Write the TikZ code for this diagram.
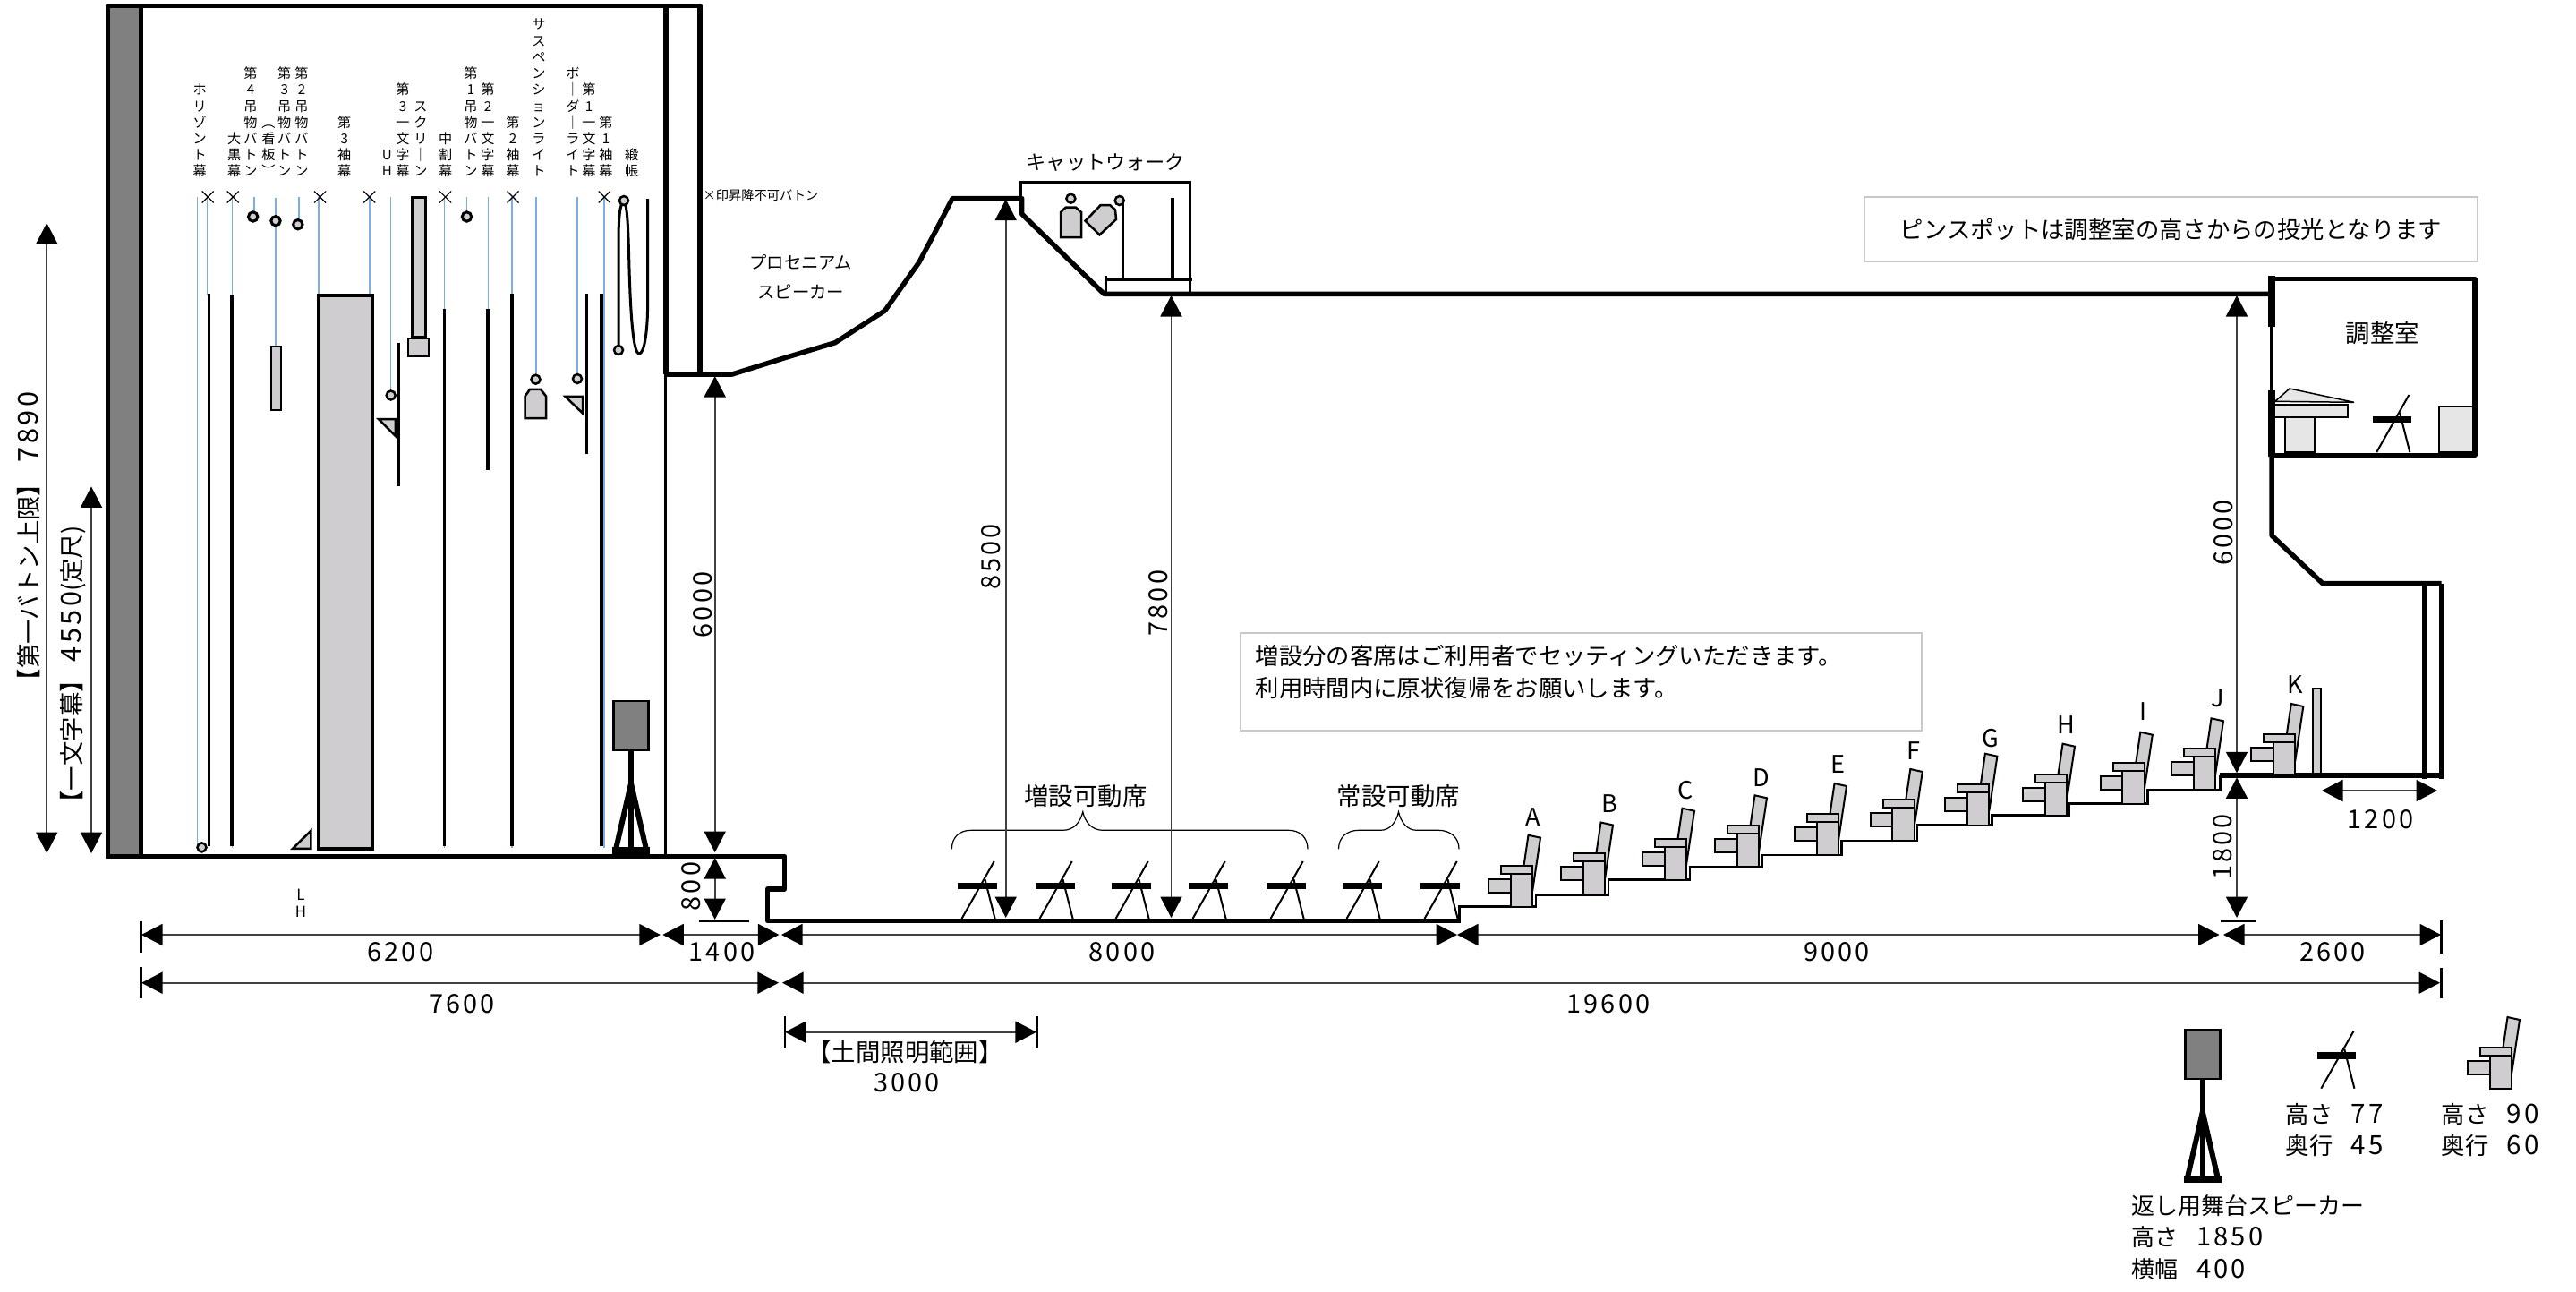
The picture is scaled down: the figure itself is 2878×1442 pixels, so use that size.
\documentclass[tikz,border=0pt]{standalone}
\usepackage{fontspec}
\setmainfont{Noto Sans CJK JP}
\newfontfamily\dimfont[LetterSpace=11,Scale=1.12]{Noto Sans CJK JP}
\usetikzlibrary{arrows.meta}

\definecolor{seatgray}{HTML}{CFCDCF}
\definecolor{paleg}{HTML}{E6E6E6}
\definecolor{darkg}{HTML}{808080}
\definecolor{battenblue}{HTML}{78AEE6}
\definecolor{boxgray}{HTML}{C8C8C8}

\tikzset{
    foldchair/.pic={
        \fill (0,-40.5) rectangle (43.5,-33);
        \draw[line width=0.02cm] (4.5,0) -- (40.7,-64);
        \draw[line width=0.02cm] (30.4,-44) -- (41.6,0);
    },
    fixedseat/.pic={
        \draw[seatline] (-4.5,-80) -- (9,-77) -- (0.5,-20) -- (-9.5,-46) -- cycle;
        \draw[seatline] (-49,-31) rectangle (-24.5,-16);
        \draw[seatline] (-24.5,-37) rectangle (0,0);
        \draw[seatline] (-35,-46) rectangle (0,-37);
    },
    speaker/.pic={
        \draw[line width=0.06cm] (0,55) -- (0,170);
        \draw[line width=0.06cm] (-18,170) -- (0,92) -- (18,170);
        \draw[line width=0.08cm] (-21,167) -- (21,167);
        \draw[line width=0.025cm, fill=darkg] (-19.5,0) rectangle (19.5,55);
    }
}

\begin{document}
\begin{tikzpicture}[x=0.01cm,y=-0.01cm]
    \tikzstyle{every node}=[font=\fontsize{7.5pt}{10.5pt}\selectfont, inner sep=0pt]
    \tikzstyle{biglabel}=[font=\fontsize{7.8pt}{10.5pt}\selectfont]
    \tikzstyle{seatline}=[line width=0.02cm, fill=seatgray]
    \tikzstyle{wall}=[line width=0.055cm, line join=round]
    \tikzstyle{stepline}=[line width=0.025cm]
    \tikzstyle{batten}=[line width=0.035cm]
    \tikzstyle{wire}=[line width=0.018cm, draw=battenblue]
    \tikzstyle{hang}=[line width=0.025cm, fill=seatgray]
    \tikzstyle{dimline}=[line width=0.018cm, draw=black!75, <->, >={Triangle[length=0.235cm,width=0.24cm,color=black]}]
    \tikzstyle{dimtick}=[line width=0.025cm]
    \tikzstyle{dimlabel}=[font=\dimfont\fontsize{7.34pt}{10.5pt}\selectfont]
    \tikzstyle{vtext}=[font=\fontsize{4.3pt}{5.18pt}\selectfont, align=center, anchor=south, text depth=0pt]
    \tikzstyle{smalltext}=[font=\fontsize{5.5pt}{9.3pt}\selectfont, align=center]
    \tikzstyle{notebox}=[draw=boxgray, line width=0.02cm]

    \useasboundingbox (0,0) rectangle (2878,1442);

    % stage
    \fill[darkg] (120,9) rectangle (155,955);
    \draw[wall] (157.5,6.5) -- (157.5,956);
    \draw[wall] (120.5,956.5) -- (120.5,6.5) -- (782,6.5) -- (782,418);
    \draw[wall] (744,6.5) -- (744,418);
    \draw[line width=0.035cm] (743.5,418) -- (743.5,956);
    \draw[wall] (118,956.5) -- (876.5,956.5) -- (876.5,993) -- (857.6,993) -- (857.6,1028.3) -- (1631.7,1028.3);

    % ceiling
    \draw[wall] (742,418) -- (818,418) -- (875.7,400) -- (933,382.7) -- (988.6,347) -- (1026.8,293) -- (1046,256.7) -- (1064,221.7) -- (1141.7,221.7)
        -- (1141.7,239) -- (1233.5,328.3) -- (2538,328.3);

    % catwalk
    \draw[line width=0.03cm] (1140.5,221) -- (1140.5,203.3) -- (1329,203.3) -- (1329,328);
    \draw[line width=0.04cm] (1233.5,311.7) -- (1332,311.7);
    \draw[line width=0.03cm] (1235.4,308) -- (1235.4,328);
    \draw[batten] (1254.5,225) -- (1254.5,311);
    \draw[batten] (1310,221) -- (1310,311);
    \draw[hang] (1250.7,224) circle (5);
    \draw[hang] (1196.4,221.7) circle (5);
    \draw[hang] (1185,265) -- (1185,237) -- (1190.6,231.7) -- (1202,231.7) -- (1208,237) -- (1208,265) -- cycle;
    \draw[hang] (1212.5,246.7) -- (1228.5,262.3) -- (1247,245) -- (1246,234.3) -- (1240,229) -- (1229.7,229) -- cycle;

    % control room
    \draw[wall] (2538,311.7) -- (2765,311.7) -- (2765,508.3) -- (2538,508.3);
    \draw[line width=0.034cm] (2538,365) -- (2538,436);
    \draw[line width=0.08cm] (2538,308) -- (2538,365);
    \draw[line width=0.08cm] (2538,436) -- (2538,510);
    \draw[wall] (2538,510) -- (2538,598) -- (2595,651.7) -- (2727.7,651.7);
    \draw[wall] (2708.3,651.7) -- (2708.3,870);
    \draw[wall] (2727.7,651.7) -- (2727.7,870);
    \draw[line width=0.015cm, fill=paleg] (2541.7,448.3) -- (2558,434) -- (2630,449.3) -- cycle;
    \draw[line width=0.02cm, fill=paleg] (2552.7,465.7) rectangle (2585.7,505);
    \draw[line width=0.02cm, fill=paleg] (2541,452.3) rectangle (2623,465.7);
    \draw[line width=0.015cm, fill=paleg] (2725,454.3) rectangle (2762.7,505);
    \pic at (2650.7,505) {foldchair};
    \node[biglabel] (ctrlroom) at (2661.7,372) {調整室};

    % steps of the seating
    \draw[stepline] (1630.6,1028) -- (1630.6,1012.7) -- (1716,1012.7) -- (1716,999.3) -- (1797,999.3) -- (1797,982.7) -- (1888,982.7) -- (1888,968.3)
        -- (1969,968.3) -- (1969,955) -- (2057.7,955) -- (2057.7,939) -- (2141.8,939) -- (2141.8,921.7) -- (2225.5,921.7) -- (2225.5,910.7)
        -- (2311.7,910.7) -- (2311.7,897.7) -- (2399.5,897.7) -- (2399.5,882.3) -- (2480.6,882.3) -- (2480.6,866);
    \draw[wall] (2480,866) -- (2730,866);

    % wires
    \foreach \wx/\wa/\wb in {220.5/220/947, 231.5/220/330, 259.5/220/947, 284/220/242, 308/221/387, 333.7/220/250, 355.7/220/328, 412.7/220/328,
        436.5/220/441, 496.5/220/947, 521.5/220/242, 545.4/220/347, 572/220/947, 598.6/220/424, 645/220/423, 674.6/220/947}{
        \draw[wire] (\wx,\wa) -- (\wx,\wb);
    }
    \foreach \mx in {232.2,260.2,357.6,412.7,497.6,573,675.3}{
        \draw[line width=0.012cm] (\mx-6.5,213.5) -- (\mx+6.5,226.5) (\mx-6.5,226.5) -- (\mx+6.5,213.5);
    }

    % battens and curtains
    \foreach \bx/\ba/\bb in {233.7/328/945, 259.2/329/945, 445.4/383/543, 496.5/345/945, 545.2/345/525, 572/328/945, 655.7/328/507, 672.2/328/945}{
        \draw[batten] (\bx,\ba) -- (\bx,\bb);
    }
    \draw[line width=0.04cm, fill=seatgray] (355.5,329.5) rectangle (416.3,947.5);
    \draw[line width=0.02cm, fill=seatgray] (303.4,386.7) rectangle (313.5,458);
    \draw[line width=0.03cm, fill=seatgray] (460.4,220.7) rectangle (475,376.7);
    \draw[hang] (455.8,378) rectangle (478.8,398);
    \foreach \cx/\cy in {282.7/242, 308/246.7, 332.8/250.7, 521.5/242}{
        \draw[line width=0.03cm, fill=seatgray] (\cx,\cy) circle (5.2);
    }
    \foreach \cx/\cy in {436.7/441.5, 598.5/423.7, 645/423, 225.5/946.4}{
        \draw[hang] (\cx,\cy) circle (5);
    }
    \draw[hang] (423,468) -- (441.8,468) -- (441.8,487) -- cycle;
    \draw[hang] (631.6,442.9) -- (651,442.9) -- (651,461.6) -- cycle;
    \draw[hang] (327,947.8) -- (347.4,947.8) -- (347.4,927.7) -- cycle;
    \draw[hang] (586.7,467) -- (586.7,442.4) -- (592,434.8) -- (604,434.8) -- (610,442.4) -- (610,467) -- cycle;
    \draw[line width=0.03cm] (691,391) -- (691,270) .. controls (691,240) and (693,226) .. (697,226) .. controls (701,226) and (702,260) .. (703,300)
        .. controls (705,370) and (709,395) .. (714,395) .. controls (720,395) and (723,370) .. (723.5,348) -- (723.5,222);
    \draw[hang] (697,224) circle (5);
    \draw[hang] (691,391) circle (5);
    \pic at (705,783) {speaker};

    % labels of the hanging items
    \foreach \nm/\lx/\txt in {
        horizon/223.3/{ホ\\リ\\ゾ\\ン\\ト\\幕},
        ookuro/261.7/{大\\黒\\幕},
        tsuri/280/{第\\4\\吊\\物\\バ\\ト\\ン},
        kanban/300/{︵\\看\\板\\︶},
        tsurithree/317.7/{第\\3\\吊\\物\\バ\\ト\\ン},
        tsuritwo/337/{第\\2\\吊\\物\\バ\\ト\\ン},
        sodethree/384.7/{第\\3\\袖\\幕},
        uh/432.3/{U\\H},
        ichithree/450/{第\\3\\一\\文\\字\\幕},
        screen/470/{ス\\ク\\リ\\｜\\ン},
        nakawari/497.7/{中\\割\\幕},
        tsurione/526/{第\\1\\吊\\物\\バ\\ト\\ン},
        ichitwo/545/{第\\2\\一\\文\\字\\幕},
        sodetwo/573/{第\\2\\袖\\幕},
        suspension/602/{サ\\ス\\ペ\\ン\\シ\\ョ\\ン\\ラ\\イ\\ト},
        border/640/{ボ\\｜\\ダ\\｜\\ラ\\イ\\ト},
        ichione/658/{第\\1\\一\\文\\字\\幕},
        sodeone/677/{第\\1\\袖\\幕},
        donchou/705.7/{緞\\帳}}{
        \node[vtext] (\nm) at (\lx,197.6) {\txt};
    }
    \node[font=\fontsize{4.8pt}{5.3pt}\selectfont, align=center] (lhlabel) at (336,1008.5) {L\\H};
    \node[font=\fontsize{4.05pt}{5.3pt}\selectfont, anchor=west] (nolift) at (785,217.7) {×印昇降不可バトン};
    \node[smalltext] (prosc) at (894.8,309.5) {プロセニアム\\スピーカー};
    \node[font=\fontsize{6.3pt}{7pt}\selectfont] (catwalk) at (1235.4,181.7) {キャットウォーク};

    % notes
    \node[notebox, minimum width=6.85cm, minimum height=0.72cm] (pinnote) at (2425.5,256) {ピンスポットは調整室の高さからの投光となります};
    \node[notebox, minimum width=7.61cm, minimum height=1.09cm] (seatbox) at (1766.5,761.5) {};
    \node[anchor=west, align=left] (seatnote) at (1402,750.5) {増設分の客席はご利用者でセッティングいただきます。\\利用時間内に原状復帰をお願いします。};

    % movable chairs
    \foreach \sx in {1070,1157,1242,1328,1415,1500,1587}{
        \pic at (\sx,1026) {foldchair};
    }
    \draw[line width=0.012cm] (1063.4,948.3) .. controls (1063.4,935) and (1072,927.3) .. (1084.8,927.3) -- (1187.5,927.3)
        .. controls (1200,927.3) and (1207,918) .. (1209.8,906.7) .. controls (1212,918) and (1220,927.3) .. (1232,927.3) -- (1439.7,927.3)
        .. controls (1452,927.3) and (1461,935) .. (1461,948.3);
    \draw[line width=0.012cm] (1495.5,948.3) .. controls (1495.5,935) and (1505,927.3) .. (1517.9,927.3) -- (1542.4,927.3)
        .. controls (1553,927.3) and (1560,918) .. (1562.5,906.7) .. controls (1565,918) and (1572,927.3) .. (1582.6,927.3) -- (1607,927.3)
        .. controls (1620,927.3) and (1630,935) .. (1630,948.3);
    \node[biglabel] (addseats) at (1213,889) {増設可動席};
    \node[biglabel] (fixseats) at (1562.5,889) {常設可動席};

    % fixed seats
    \foreach \rowname/\rx/\ry/\lx/\ly in {A/1712/1012.7/1713/913, B/1793/998.5/1798/898, C/1884/982.7/1883/883, D/1965/968.3/1968/869, E/2054/955/2053/854,
        F/2138.8/939/2138/839, G/2222.4/921.7/2223.5/825, H/2309/910.7/2308/810, I/2395.8/897.7/2394/795, J/2475/882.3/2478/780, K/2564.3/866/2564/765}{
        \pic at (\rx,\ry) {fixedseat};
        \node[font=\fontsize{7.7pt}{9pt}\selectfont] (row\rowname) at (\lx,\ly) {\rowname};
    }
    \draw[seatline] (2584,769) rectangle (2593,864);

    % dimensions
    \foreach \nm/\xa/\ya/\xb/\yb in {dsix/158/1044/737.8/1044, dfourteen/740.3/1044/870.4/1044, deight/873/1044/1628/1044, dnine/1628/1044/2479.5/1044,
        dtwosix/2484/1044/2727/1044, dseven/158/1097.7/870/1097.7, dnineteen/874/1097.7/2726/1097.7, dlight/877/1152.7/1158/1152.7,
        dstage/798.7/420/798.7/952, dfloor/798.7/958/798.7/1027, dbar/1123.7/222.7/1123.7/1025, dcat/1308.5/330/1308.5/1025,
        dback/2499/330/2499/863.3, dtier/2499/868.3/2499/1025, daisle/2594/883/2723/883,
        dbatten/52.3/249/52.3/953, dichi/102/543.4/102/953}{
        \coordinate (\nm a) at (\xa,\ya);
        \coordinate (\nm b) at (\xb,\yb);
        \draw[dimline] (\nm a) -- (\nm b);
    }
    \foreach \ta/\tb/\tc/\td in {157.7/1028.6/157.7/1064, 157.7/1080/157.7/1115, 2727.6/1028/2727.6/1065, 2727.6/1081/2727.6/1115,
        877/1135/877/1170, 1158.5/1135/1158.5/1170, 781/1028.3/837/1028.3, 2480.6/1028.3/2520/1028.3}{
        \draw[dimtick] (\ta,\tb) -- (\tc,\td);
    }
    \foreach \nm/\lx/\ly/\txt in {lsix/447.4/1063/6200, lfourteen/806.6/1063/1400, leight/1253.6/1063/8000, lnine/2052/1063/9000, ltwosix/2606/1063/2600,
        lseven/516/1121/7600, lnineteen/1797/1121/19600, laisle/2659.4/915/1200, lthree/1013/1209.6/3000}{
        \node[dimlabel] (\nm) at (\lx,\ly) {\txt};
    }
    \foreach \nm/\lx/\ly/\txt in {lstage/785/675.4/6000, lfloor/772.4/990/800, lbar/1107/622/8500, lcat/1294/673.6/7800, lback/2484/595/6000, ltier/2483.6/946/1800}{
        \node[dimlabel, rotate=90] (\nm) at (\lx,\ly) {\txt};
    }
    \node[biglabel] (lighting) at (1011,1175) {【土間照明範囲】};
    \node[biglabel, rotate=90] (lbatten) at (31.7,606) {【第一バトン上限】\hspace{3pt}{\dimfont 7890}};
    \node[biglabel, rotate=90] (lichi) at (81.7,749) {【一文字幕】\hspace{2pt}{\dimfont 4550}(定尺)};

    % legend
    \pic at (2460.8,1150) {speaker};
    \pic at (2588.8,1215.7) {foldchair};
    \pic at (2806,1216) {fixedseat};
    \node[anchor=north west, align=left, font=\fontsize{7.4pt}{10pt}\selectfont] (speakerlegend) at (2381,1334) {返し用舞台スピーカー\\高さ\hspace{5.8pt}{\dimfont 1850}\\横幅\hspace{5.8pt}{\dimfont 400}};
    \node[anchor=west, align=left, font=\fontsize{7.5pt}{10.2pt}\selectfont] (chairlegend) at (2553,1262) {高さ\hspace{5.8pt}{\dimfont 77}\\奥行\hspace{5.8pt}{\dimfont 45}};
    \node[anchor=west, align=left, font=\fontsize{7.5pt}{10.2pt}\selectfont] (seatlegend) at (2727,1262) {高さ\hspace{5.8pt}{\dimfont 90}\\奥行\hspace{5.8pt}{\dimfont 60}};
\end{tikzpicture}
\end{document}
